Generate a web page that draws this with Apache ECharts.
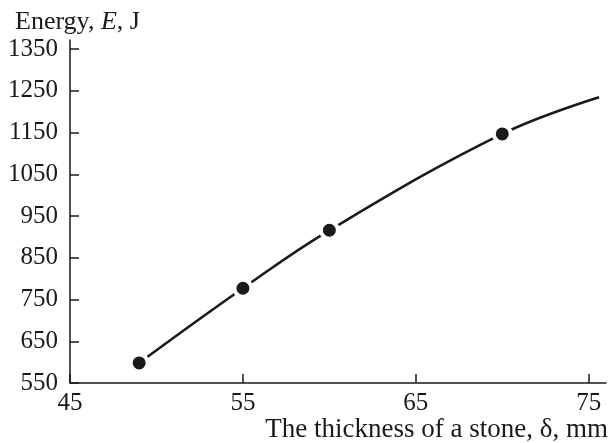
<!DOCTYPE html>
<html>
<head>
<meta charset="utf-8">
<script src="https://cdn.jsdelivr.net/npm/echarts@6/dist/echarts.min.js"></script>
<style>
  html, body { margin: 0; padding: 0; background: #fff; }
  #chart { width: 611px; height: 443px; }
</style>
</head>
<body>
<div id="chart"></div>
<script>
// measured points (thickness mm, energy J)
const thickness = [49, 55, 60, 70];
const energy = [598, 777, 916, 1147];
// fitted curve, runs on past the last point
const curveX = [49, 55, 60, 70, 75.6];
const curveY = [598, 777, 916, 1147, 1235];
const xTicks = [45, 55, 65, 75];
const yTicks = [550, 650, 750, 850, 950, 1050, 1150, 1250, 1350];

const font = '"Liberation Serif", "Times New Roman", serif';
const ink = '#1a1a1a';

const chart = echarts.init(document.querySelector('#chart'));

chart.setOption({
    animation: false,
    title: {
        left: 10,
        top: 4,
        text: '{a|Energy, }{i|E}{a|, J}',
        textStyle: {
            fontWeight: 'normal',
            rich: {
                a: { fontFamily: font, fontSize: 26, color: ink, fontWeight: 'normal' },
                i: { fontFamily: font, fontSize: 26, color: ink, fontStyle: 'italic', fontWeight: 'normal' }
            }
        }
    },
    grid: {
        left: 70,
        right: 5,
        top: 40,
        bottom: 60,
        containLabel: false,
        outerBoundsMode: 'none'
    },
    xAxis: {
        type: 'value',
        min: 45,
        max: 76,
        interval: 10,
        name: 'The thickness of a stone, δ, mm',
        nameLocation: 'end',
        nameGap: 2,
        nameMoveOverlap: false,
        nameTextStyle: {
            fontFamily: font,
            fontSize: 27,
            color: ink,
            align: 'right',
            verticalAlign: 'top',
            padding: [33, 0, 0, 0]
        },
        splitLine: { show: false },
        axisLine: { lineStyle: { color: ink, width: 1.5 } },
        axisTick: {
            inside: true,
            length: 9,
            customValues: xTicks,
            lineStyle: { color: ink, width: 1.5 }
        },
        axisLabel: {
            customValues: xTicks,
            formatter: (v) => String(v),
            margin: 8,
            fontFamily: font,
            fontSize: 25,
            color: ink
        }
    },
    yAxis: {
        type: 'value',
        min: 550,
        max: 1372,
        interval: 100,
        splitLine: { show: false },
        axisLine: { show: true, lineStyle: { color: ink, width: 1.5 } },
        axisTick: {
            show: true,
            inside: true,
            length: 9,
            customValues: yTicks,
            lineStyle: { color: ink, width: 1.5 }
        },
        axisLabel: {
            customValues: yTicks,
            formatter: (v) => String(v),
            margin: 12,
            fontFamily: font,
            fontSize: 25,
            color: ink
        }
    },
    series: [
        {
            type: 'line',
            data: curveX.map((x, i) => [x, curveY[i]]),
            smooth: 0.4,
            showSymbol: false,
            lineStyle: { color: ink, width: 2.6 },
            z: 2
        },
        {
            type: 'scatter',
            data: thickness.map((x, i) => [x, energy[i]]),
            symbol: 'circle',
            symbolSize: 17,
            itemStyle: {
                color: ink,
                borderColor: '#fff',
                borderWidth: 4,
                opacity: 1
            },
            z: 3
        }
    ]
});
</script>
</body>
</html>
